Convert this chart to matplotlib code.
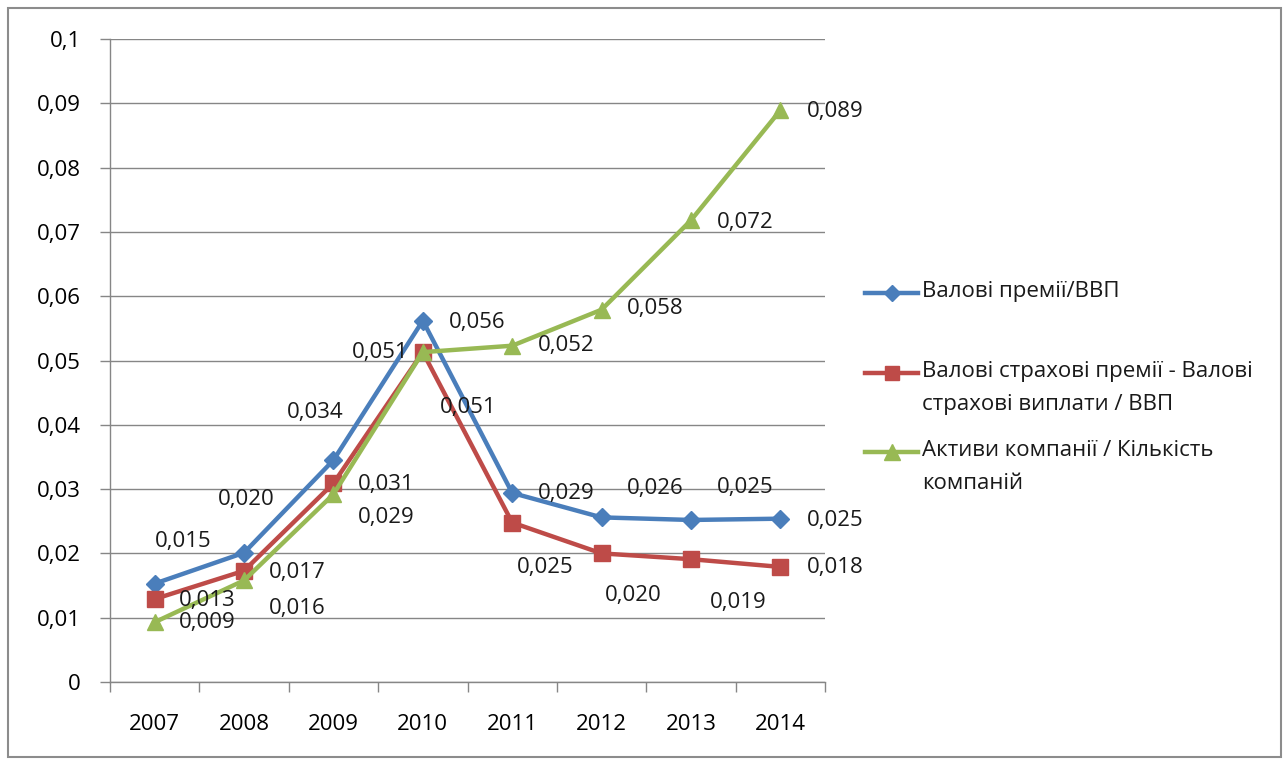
import matplotlib
matplotlib.use("Agg")
import matplotlib.pyplot as plt
from matplotlib.lines import Line2D
from matplotlib.patches import Rectangle

plt.rcParams['font.family'] = ['Open Sans', 'DejaVu Sans']

years = ['2007', '2008', '2009', '2010', '2011', '2012', '2013', '2014']
premiums_gdp = [0.0153, 0.0201, 0.0345, 0.0562, 0.0294, 0.0256, 0.0252, 0.0254]
net_premiums_gdp = [0.0129, 0.0173, 0.0309, 0.0513, 0.0248, 0.0200, 0.0191, 0.0179]
assets_per_company = [0.0093, 0.0158, 0.0292, 0.0513, 0.0523, 0.0579, 0.0718, 0.0889]

labels_blue = ['0,015', '0,020', '0,034', '0,056', '0,029', '0,026', '0,025', '0,025']
labels_red = ['0,013', '0,017', '0,031', '0,051', '0,025', '0,020', '0,019', '0,018']
labels_green = ['0,009', '0,016', '0,029', '0,051', '0,052', '0,058', '0,072', '0,089']

series_names = ['Валові премії/ВВП',
                'Валові страхові премії - Валові\nстрахові виплати / ВВП',
                'Активи компанії / Кількість\nкомпаній']

y_ticks = [0, 0.01, 0.02, 0.03, 0.04, 0.05, 0.06, 0.07, 0.08, 0.09, 0.1]
y_tick_labels = ['0', '0,01', '0,02', '0,03', '0,04', '0,05', '0,06', '0,07', '0,08', '0,09', '0,1']

# label offsets in pixels (dx, dy; dy positive = up)
off_blue = [(29, 42), (2, 53), (-18, 48), (54, -2), (54, -1), (54, 29), (54, 32), (55, -2)]
off_red = [(53, -1), (53, -2), (53, -1), (45, -55), (33, -45), (32, -42), (47, -43), (55, -1)]
off_green = [(53, 0), (53, -28), (53, -23), (-43, 0), (54, 0), (54, 1), (54, -2), (55, -1)]

W, H = 1288, 762
FS = 16
fig = plt.figure(figsize=(W / 100, H / 100), dpi=100)
ax = fig.add_axes([110 / W, 1 - 682 / H, (825 - 110) / W, (682 - 39) / H])

grey = '#868686'
c_blue = '#4A7EBB'
c_red = '#BE4B48'
c_green = '#98B954'

x = list(range(len(years)))
ax.plot(x, premiums_gdp, color=c_blue, lw=3.2, marker='D', ms=9, zorder=3)
ax.plot(x, net_premiums_gdp, color=c_red, lw=3.2, marker='s', ms=11, zorder=4)
ax.plot(x, assets_per_company, color=c_green, lw=3.2, marker='^', ms=12, zorder=5)

for vals, labs, offs in [(premiums_gdp, labels_blue, off_blue),
                         (net_premiums_gdp, labels_red, off_red),
                         (assets_per_company, labels_green, off_green)]:
    for xi, v, lab, (dx, dy) in zip(x, vals, labs, offs):
        ax.annotate(lab, (xi, v), xytext=(dx, dy), textcoords='offset pixels',
                    ha='center', va='center', fontsize=FS, color='#1a1a1a', zorder=6)

ax.set_xlim(-0.5, len(years) - 0.5)
ax.set_ylim(0, 0.1)
ax.set_yticks(y_ticks)
ax.set_yticklabels(y_tick_labels, fontsize=FS)
ax.set_xticks(x)
ax.set_xticklabels(years, fontsize=FS)
ax.set_xticks([i - 0.5 for i in range(len(years) + 1)], minor=True)
ax.tick_params(axis='x', which='major', length=0, pad=23)
ax.tick_params(axis='x', which='minor', length=7, color=grey, width=1)
ax.tick_params(axis='y', length=7, color=grey, width=1, pad=14)
ax.grid(axis='y', color=grey, lw=1)
ax.set_axisbelow(True)
for s in ['top', 'right']:
    ax.spines[s].set_visible(False)
for s in ['left', 'bottom']:
    ax.spines[s].set_color(grey)
    ax.spines[s].set_linewidth(1)

# legend (manual)
leg_items = [(c_blue, 'D', 8, 293), (c_red, 's', 10, 373), (c_green, '^', 11, 452)]
for (col, mk, ms, yp), name in zip(leg_items, series_names):
    yf = 1 - yp / H
    fig.add_artist(Line2D([865 / W, 918 / W], [yf, yf], color=col, lw=3.2))
    fig.add_artist(Line2D([891.5 / W], [yf], color=col, marker=mk, ms=ms, lw=0))
    fig.text(922 / W, yf + 12 / H, name, ha='left', va='top', fontsize=FS,
             linespacing=1.75, color='#1a1a1a')

fig.add_artist(Rectangle((8 / W, 1 - 757 / H), (1281 - 8) / W, (757 - 8) / H,
                         transform=fig.transFigure, fill=False, edgecolor='#8c8c8c', lw=1.5))

fig.savefig('out.png', dpi=100)
